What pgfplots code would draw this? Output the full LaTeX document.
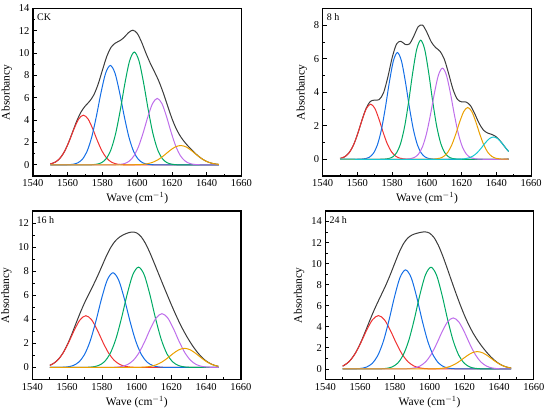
\documentclass[border=0pt]{standalone}
\usepackage{fontspec}
\setmainfont{Liberation Serif}
\usepackage{pgfplots}
\pgfplotsset{compat=1.18}
\definecolor{cRed}{RGB}{240,50,50}
\definecolor{cBlue}{RGB}{20,110,230}
\definecolor{cGreen}{RGB}{0,170,100}
\definecolor{cPurple}{RGB}{190,110,235}
\definecolor{cOrange}{RGB}{235,160,0}
\definecolor{cCyan}{RGB}{20,200,210}
\definecolor{cBlack}{RGB}{60,60,60}
\pgfplotsset{
 panel/.style={
  scale only axis, width=208.5pt,
  xmin=1540, xmax=1660, xtick={1540,1560,...,1660}, minor x tick num=1,
  ymin=-1, minor y tick num=1,
  xtick pos=bottom, ytick pos=left, tick align=inside,
  major tick length=4pt, minor tick length=2.2pt,
  axis line style={line width=1.3pt, black},
  every tick/.append style={black, line width=0.9pt},
  tick label style={font=\fontsize{10.5}{12}\selectfont},
  label style={font=\fontsize{11.5}{13}\selectfont},
  xlabel={Wave (cm$^{-1}$)}, ylabel={Absorbancy},
  xlabel style={yshift=1pt},
  scaled ticks=false,
  /pgf/number format/assume math mode=true,
  /pgf/number format/1000 sep={},
  every axis plot/.append style={line width=1pt, smooth, mark=none},
 }
}
\begin{document}
\begin{tikzpicture}
\path[use as bounding box] (0,0) rectangle (550pt,413pt);
% ---------------- CK ----------------
\begin{axis}[panel, at={(33pt,237pt)}, anchor=south west, height=167.5pt,
  ymax=14, ytick={0,2,...,14}]
\addplot[cBlack] coordinates {(1550,0.080) (1552.5,0.215) (1555,0.502) (1557.5,1.023) (1560,1.816) (1562.5,2.820) (1565,3.853) (1567.5,4.696) (1570,5.257) (1572.5,5.679) (1575,6.262) (1577.5,7.229) (1580,8.501) (1582.5,9.722) (1585,10.542) (1587.5,10.914) (1590,11.112) (1592.5,11.423) (1595,11.843) (1597.5,12.059) (1600,11.769) (1602.5,10.986) (1605,10.001) (1607.5,9.097) (1610,8.306) (1612.5,7.463) (1615,6.435) (1617.5,5.266) (1620,4.137) (1622.5,3.209) (1625,2.515) (1627.5,1.992) (1630,1.554) (1632.5,1.159) (1635,0.804) (1637.5,0.513) (1640,0.298) (1642.5,0.158) (1645,0.076) (1647,0.039)};
\addplot[cRed] coordinates {(1550,0.080) (1552.92,0.250) (1555.60,0.602) (1558.28,1.237) (1560.96,2.166) (1563.64,3.231) (1566.32,4.108) (1569,4.45) (1571.68,4.108) (1574.36,3.231) (1577.04,2.166) (1579.72,1.237) (1582.40,0.602) (1585.08,0.250) (1587.76,0.088) (1590.44,0.027) (1593.12,0.007) (1595.8,0) (1647,0)};
\addplot[cBlue] coordinates {(1550,0) (1557.70,0) (1560.38,0.014) (1563.06,0.053) (1565.74,0.176) (1568.42,0.499) (1571.10,1.204) (1573.78,2.474) (1576.46,4.333) (1579.14,6.462) (1581.82,8.216) (1584.5,8.9) (1587.18,8.216) (1589.86,6.462) (1592.54,4.333) (1595.22,2.474) (1597.90,1.204) (1600.58,0.499) (1603.26,0.176) (1605.94,0.053) (1608.62,0.014) (1611.30,0) (1647,0)};
\addplot[cGreen] coordinates {(1550,0) (1571.50,0) (1574.18,0.015) (1576.86,0.061) (1579.54,0.200) (1582.22,0.567) (1584.90,1.367) (1587.58,2.808) (1590.26,4.917) (1592.94,7.334) (1595.62,9.323) (1598.3,10.1) (1600.98,9.323) (1603.66,7.334) (1606.34,4.917) (1609.02,2.808) (1611.70,1.367) (1614.38,0.567) (1617.06,0.200) (1619.74,0.061) (1622.42,0.015) (1625.10,0) (1647,0)};
\addplot[cPurple] coordinates {(1550,0) (1584.70,0) (1587.38,0.009) (1590.06,0.036) (1592.74,0.118) (1595.42,0.334) (1598.10,0.805) (1600.78,1.654) (1603.46,2.896) (1606.14,4.320) (1608.82,5.492) (1611.5,5.95) (1614.18,5.492) (1616.86,4.320) (1619.54,2.896) (1622.22,1.654) (1624.90,0.805) (1627.58,0.334) (1630.26,0.118) (1632.94,0.036) (1635.62,0.009) (1638.30,0) (1647,0)};
\addplot[cOrange] coordinates {(1550,0) (1593.0,0) (1596.2,0.003) (1599.4,0.010) (1602.6,0.034) (1605.8,0.097) (1609.0,0.234) (1612.2,0.481) (1615.4,0.842) (1618.6,1.256) (1621.8,1.597) (1625,1.73) (1628.2,1.597) (1631.4,1.256) (1634.6,0.842) (1637.8,0.481) (1641.0,0.234) (1644.2,0.097) (1647,0.039)};
\node[anchor=north west, inner sep=1pt, font=\fontsize{10}{11}\selectfont] at (rel axis cs:0,1) [xshift=3pt, yshift=-4pt] {CK};
\end{axis}
% ---------------- 8 h ----------------
\begin{axis}[panel, at={(322.7pt,237pt)}, anchor=south west, height=167.5pt,
  ymax=9, ytick={0,2,...,8}]
\addplot[cBlack] coordinates {(1550,0.045) (1552.5,0.139) (1555,0.363) (1557.5,0.798) (1560,1.477) (1562.5,2.303) (1565,3.042) (1567.5,3.458) (1570,3.531) (1572.5,3.561) (1575,3.965) (1577.5,4.907) (1580,6.071) (1582.5,6.880) (1585,7.042) (1587.5,6.854) (1590,6.891) (1592.5,7.369) (1595,7.917) (1597.5,8.008) (1600,7.568) (1602.5,7.002) (1605,6.667) (1607.5,6.448) (1610,5.972) (1612.5,5.109) (1615,4.174) (1617.5,3.582) (1620,3.424) (1622.5,3.417) (1625,3.209) (1627.5,2.718) (1630,2.149) (1632.5,1.743) (1635,1.561) (1637.5,1.477) (1640,1.328) (1642.5,1.054) (1645,0.716) (1647,0.465)};
\addplot[cRed] coordinates {(1550,0.045) (1553.2,0.185) (1555.6,0.445) (1558.0,0.915) (1560.4,1.602) (1562.8,2.389) (1565.2,3.037) (1567.6,3.29) (1570.0,3.037) (1572.4,2.389) (1574.8,1.602) (1577.2,0.915) (1579.6,0.445) (1582.0,0.185) (1584.4,0.065) (1586.8,0.020) (1589.2,0.005) (1591.6,0) (1647,0)};
\addplot[cBlue] coordinates {(1550,0) (1560.0,0) (1562.3,0.010) (1564.6,0.038) (1566.9,0.126) (1569.2,0.357) (1571.5,0.862) (1573.8,1.771) (1576.1,3.101) (1578.4,4.625) (1580.7,5.880) (1583.0,6.37) (1585.3,5.880) (1587.6,4.625) (1589.9,3.101) (1592.2,1.771) (1594.5,0.862) (1596.8,0.357) (1599.1,0.126) (1601.4,0.038) (1603.7,0.010) (1606.0,0) (1647,0)};
\addplot[cGreen] coordinates {(1550,0) (1573.4,0) (1575.7,0.011) (1578.0,0.043) (1580.3,0.141) (1582.6,0.399) (1584.9,0.962) (1587.2,1.977) (1589.5,3.461) (1591.8,5.163) (1594.1,6.563) (1596.4,7.11) (1598.7,6.563) (1601.0,5.163) (1603.3,3.461) (1605.6,1.977) (1607.9,0.962) (1610.2,0.399) (1612.5,0.141) (1614.8,0.043) (1617.1,0.011) (1619.4,0) (1647,0)};
\addplot[cPurple] coordinates {(1550,0) (1585.9,0) (1588.2,0.008) (1590.5,0.033) (1592.8,0.108) (1595.1,0.305) (1597.4,0.736) (1599.7,1.512) (1602.0,2.648) (1604.3,3.950) (1606.6,5.022) (1608.9,5.44) (1611.2,5.022) (1613.5,3.950) (1615.8,2.648) (1618.1,1.512) (1620.4,0.736) (1622.7,0.305) (1625.0,0.108) (1627.3,0.033) (1629.6,0.008) (1631.9,0) (1647,0)};
\addplot[cOrange] coordinates {(1550,0) (1600.5,0) (1602.8,0.005) (1605.1,0.019) (1607.4,0.061) (1609.7,0.173) (1612.0,0.418) (1614.3,0.859) (1616.6,1.504) (1618.9,2.244) (1621.2,2.852) (1623.5,3.09) (1625.8,2.852) (1628.1,2.244) (1630.4,1.504) (1632.7,0.859) (1635.0,0.418) (1637.3,0.173) (1639.6,0.061) (1641.9,0.019) (1644.2,0.005) (1647,0)};
\addplot[cCyan] coordinates {(1550,0) (1614.3,0) (1616.7,0.002) (1619.1,0.008) (1621.5,0.026) (1623.9,0.075) (1626.3,0.180) (1628.7,0.370) (1631.1,0.647) (1633.5,0.966) (1635.9,1.228) (1638.3,1.33) (1640.7,1.228) (1643.1,0.966) (1645.5,0.647) (1647,0.465)};
\node[anchor=north west, inner sep=1pt, font=\fontsize{10}{11}\selectfont] at (rel axis cs:0,1) [xshift=3pt, yshift=-4pt] {8 h};
\end{axis}
% ---------------- 16 h ----------------
\begin{axis}[panel, at={(32.5pt,33.5pt)}, anchor=south west, height=168.5pt,
  ymax=13, ytick={0,2,...,12}]
\addplot[cBlack] coordinates {(1550,0.178) (1552.5,0.368) (1555,0.693) (1557.5,1.194) (1560,1.881) (1562.5,2.725) (1565,3.648) (1567.5,4.555) (1570,5.383) (1572.5,6.128) (1575,6.847) (1577.5,7.611) (1580,8.432) (1582.5,9.253) (1585,9.962) (1587.5,10.484) (1590,10.822) (1592.5,11.035) (1595,11.183) (1597.5,11.254) (1600,11.176) (1602.5,10.869) (1605,10.311) (1607.5,9.557) (1610,8.695) (1612.5,7.804) (1615,6.918) (1617.5,6.044) (1620,5.187) (1622.5,4.366) (1625,3.602) (1627.5,2.907) (1630,2.283) (1632.5,1.727) (1635,1.244) (1637.5,0.843) (1640,0.533) (1642.5,0.311) (1645,0.167) (1647,0.096)};
\addplot[cRed] coordinates {(1550,0.178) (1551.02,0.241) (1554.30,0.582) (1557.58,1.195) (1560.86,2.093) (1564.14,3.122) (1567.42,3.969) (1570.7,4.30) (1573.98,3.969) (1577.26,3.122) (1580.54,2.093) (1583.82,1.195) (1587.10,0.582) (1590.38,0.241) (1593.66,0.085) (1596.94,0.026) (1600.22,0.007) (1603.5,0) (1647,0)};
\addplot[cBlue] coordinates {(1550,0) (1553.5,0) (1556.78,0.012) (1560.06,0.047) (1563.34,0.156) (1566.62,0.442) (1569.90,1.065) (1573.18,2.188) (1576.46,3.831) (1579.74,5.714) (1583.02,7.265) (1586.3,7.87) (1589.58,7.265) (1592.86,5.714) (1596.14,3.831) (1599.42,2.188) (1602.70,1.065) (1605.98,0.442) (1609.26,0.156) (1612.54,0.047) (1615.82,0.012) (1619.10,0) (1647,0)};
\addplot[cGreen] coordinates {(1550,0) (1568.2,0) (1571.48,0.013) (1574.76,0.050) (1578.04,0.165) (1581.32,0.468) (1584.60,1.128) (1587.88,2.319) (1591.16,4.060) (1594.44,6.056) (1597.72,7.699) (1601.0,8.34) (1604.28,7.699) (1607.56,6.056) (1610.84,4.060) (1614.12,2.319) (1617.40,1.128) (1620.68,0.468) (1623.96,0.165) (1627.24,0.050) (1630.52,0.013) (1633.80,0) (1647,0)};
\addplot[cPurple] coordinates {(1550,0) (1581.7,0) (1584.98,0.007) (1588.26,0.027) (1591.54,0.089) (1594.82,0.251) (1598.10,0.605) (1601.38,1.243) (1604.66,2.176) (1607.94,3.246) (1611.22,4.126) (1614.5,4.47) (1617.78,4.126) (1621.06,3.246) (1624.34,2.176) (1627.62,1.243) (1630.90,0.605) (1634.18,0.251) (1637.46,0.089) (1640.74,0.027) (1644.02,0.007) (1647,0)};
\addplot[cOrange] coordinates {(1550,0) (1594.7,0) (1597.98,0.002) (1601.26,0.010) (1604.54,0.031) (1607.82,0.089) (1611.10,0.215) (1614.38,0.442) (1617.66,0.774) (1620.94,1.155) (1624.22,1.468) (1627.5,1.59) (1630.78,1.468) (1634.06,1.155) (1637.34,0.774) (1640.62,0.442) (1643.90,0.215) (1647,0.094)};
\node[anchor=north west, inner sep=1pt, font=\fontsize{10}{11}\selectfont] at (rel axis cs:0,1) [xshift=3pt, yshift=-4pt] {16 h};
\end{axis}
% ---------------- 24 h ----------------
\begin{axis}[panel, at={(325.3pt,33.5pt)}, anchor=south west, height=168.5pt,
  ymax=15, ytick={0,2,...,14}]
\addplot[cBlack] coordinates {(1550,0.269) (1552.5,0.526) (1555,0.946) (1557.5,1.561) (1560,2.374) (1562.5,3.337) (1565,4.362) (1567.5,5.358) (1570,6.274) (1572.5,7.136) (1575,8.019) (1577.5,8.995) (1580,10.047) (1582.5,11.068) (1585,11.895) (1587.5,12.440) (1590,12.727) (1592.5,12.875) (1595,12.974) (1597.5,13.017) (1600,12.899) (1602.5,12.492) (1605,11.766) (1607.5,10.773) (1610,9.633) (1612.5,8.445) (1615,7.277) (1617.5,6.160) (1620,5.127) (1622.5,4.213) (1625,3.428) (1627.5,2.759) (1630,2.176) (1632.5,1.659) (1635,1.198) (1637.5,0.811) (1640,0.508) (1642.5,0.291) (1645,0.153) (1647,0.085)};
\addplot[cRed] coordinates {(1550,0.269) (1553.6,0.686) (1557.0,1.409) (1560.4,2.468) (1563.8,3.681) (1567.2,4.680) (1570.6,5.07) (1574.0,4.680) (1577.4,3.681) (1580.8,2.468) (1584.2,1.409) (1587.6,0.686) (1591.0,0.284) (1594.4,0.100) (1597.8,0.030) (1601.2,0.008) (1604.6,0) (1647,0)};
\addplot[cBlue] coordinates {(1550,0) (1554.2,0) (1557.4,0.014) (1560.6,0.056) (1563.8,0.186) (1567.0,0.528) (1570.2,1.273) (1573.4,2.616) (1576.6,4.581) (1579.8,6.833) (1583.0,8.686) (1586.2,9.41) (1589.4,8.686) (1592.6,6.833) (1595.8,4.581) (1599.0,2.616) (1602.2,1.273) (1605.4,0.528) (1608.6,0.186) (1611.8,0.056) (1615.0,0.014) (1618.2,0) (1647,0)};
\addplot[cGreen] coordinates {(1550,0) (1568.8,0) (1572.0,0.015) (1575.2,0.058) (1578.4,0.191) (1581.6,0.542) (1584.8,1.307) (1588.0,2.685) (1591.2,4.702) (1594.4,7.014) (1597.6,8.917) (1600.8,9.66) (1604.0,8.917) (1607.2,7.014) (1610.4,4.702) (1613.6,2.685) (1616.8,1.307) (1620.0,0.542) (1623.2,0.191) (1626.4,0.058) (1629.6,0.015) (1632.8,0) (1647,0)};
\addplot[cPurple] coordinates {(1550,0) (1581.6,0) (1584.8,0.007) (1588.0,0.029) (1591.2,0.096) (1594.4,0.272) (1597.6,0.656) (1600.8,1.348) (1604.0,2.361) (1607.2,3.522) (1610.4,4.477) (1613.6,4.85) (1616.8,4.477) (1620.0,3.522) (1623.2,2.361) (1626.4,1.348) (1629.6,0.656) (1632.8,0.272) (1636.0,0.096) (1639.2,0.029) (1642.4,0.007) (1645.6,0) (1647,0)};
\addplot[cOrange] coordinates {(1550,0) (1595.5,0) (1598.7,0.003) (1601.9,0.010) (1605.1,0.033) (1608.3,0.093) (1611.5,0.223) (1614.7,0.459) (1617.9,0.803) (1621.1,1.198) (1624.3,1.523) (1627.5,1.65) (1630.7,1.523) (1633.9,1.198) (1637.1,0.803) (1640.3,0.459) (1643.5,0.223) (1647,0.085)};
\node[anchor=north west, inner sep=1pt, font=\fontsize{10}{11}\selectfont] at (rel axis cs:0,1) [xshift=3pt, yshift=-4pt] {24 h};
\end{axis}
\end{tikzpicture}
\end{document}
